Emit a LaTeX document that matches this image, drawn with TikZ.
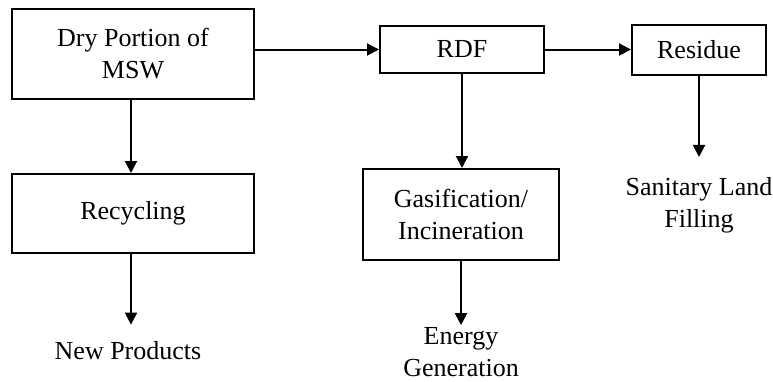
\documentclass[tikz,border=0pt]{standalone}
\usepackage{fontspec}
\setmainfont{Liberation Serif}
\usepackage{tikz}
\usetikzlibrary{arrows.meta}
\tikzset{
  procbox/.style={draw=black,line width=2pt,fill=white,inner sep=2pt,
    align=center,font=\fontsize{26}{32}\selectfont},
  endlabel/.style={inner sep=0pt,align=center,font=\fontsize{26}{32}\selectfont},
  flowarrow/.style={-{Triangle[length=12pt,width=12pt]},line width=2pt,draw=black}
}
\begin{document}
\begin{tikzpicture}[x=1pt,y=-1pt]
\useasboundingbox (0,0) rectangle (773,381);

\node[procbox, minimum width=242pt, minimum height=90pt] (dry) at (133,54) {Dry Portion of\\MSW};
\node[procbox, minimum width=164pt, minimum height=47pt] (rdf) at (462,49.5) {RDF};
\node[procbox, minimum width=134pt, minimum height=50pt] (residue) at (699,50) {Residue};
\node[procbox, minimum width=242pt, minimum height=79pt] (recyc) at (133,213.5) {Recycling};
\node[procbox, minimum width=196pt, minimum height=91pt] (gasif) at (461,214.5) {Gasification/\\Incineration};

\node[endlabel] (newprod) at (128,351) {New Products};
\node[endlabel] (energy) at (461,352) {Energy\\Generation};
\node[endlabel] (landfill) at (699,205) {Sanitary Land\\Filling};

\draw[flowarrow] (dry.east |- rdf.west) -- (rdf.west);
\draw[flowarrow] (rdf.east) -- (rdf.east -| residue.west);
\draw[flowarrow] (dry.south -| 131,0) -- (recyc.north -| 131,0);
\draw[flowarrow] (rdf.south) -- (gasif.north -| rdf.south);
\draw[flowarrow] (residue.south) -- ([yshift=20pt]landfill.north);
\draw[flowarrow] (recyc.south -| 131,0) -- ([yshift=17pt]newprod.north -| 131,0);
\draw[flowarrow] (gasif.south) -- ([yshift=2pt]energy.north);
\end{tikzpicture}
\end{document}
